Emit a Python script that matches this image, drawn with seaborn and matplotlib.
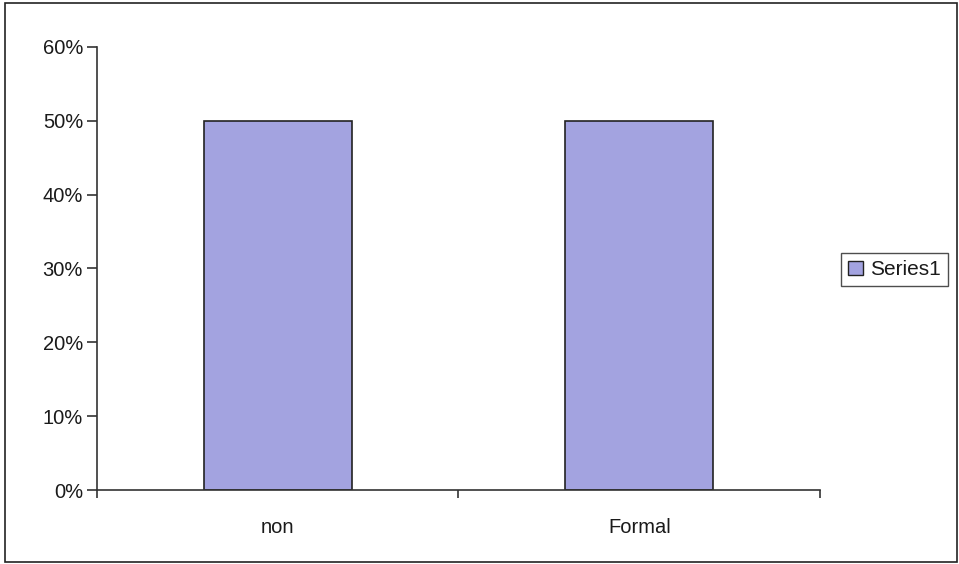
import matplotlib
matplotlib.use('Agg')
import matplotlib.pyplot as plt
import seaborn as sns
import pandas as pd
from matplotlib.patches import Rectangle, Patch
from matplotlib.ticker import PercentFormatter

categories = ['non', 'Formal']
values = [0.50, 0.50]
series_name = 'Series1'

sns.set_style('white', {'xtick.bottom': True, 'ytick.left': True})
plt.rcParams['font.family'] = ['Liberation Sans', 'DejaVu Sans']

df = pd.DataFrame({'cat': categories, 'val': values})

fig = plt.figure(figsize=(9.59, 5.64), dpi=100)
ax = fig.add_axes([0.1011, 0.1312, 0.754, 0.7855])
sns.barplot(data=df, x='cat', y='val', color='#a3a3e0', saturation=1,
            edgecolor='#222222', linewidth=1.2, width=0.41, ax=ax)

ax.set_ylim(0, 0.6)
ax.set_xlim(-0.5, 1.5)
ax.set_yticks([0, 0.1, 0.2, 0.3, 0.4, 0.5, 0.6])
ax.yaxis.set_major_formatter(PercentFormatter(1.0, decimals=0))
ax.set_xticks([-0.5, 0.5, 1.5])
ax.set_xticklabels(['', '', ''])
ax.set_xticks([0, 1], minor=True)
ax.set_xticklabels(categories, minor=True)
ax.tick_params(axis='x', which='minor', bottom=False, length=0, pad=20,
               labelsize=14.5, labelcolor='#1a1a1a')
ax.tick_params(axis='x', which='major', bottom=True, direction='out', length=6,
               width=1.2, color='#333333')
ax.tick_params(axis='y', left=True, direction='out', length=7, width=1.2,
               color='#333333', labelsize=14.5, labelcolor='#1a1a1a', pad=3)
ax.set_xlabel('')
ax.set_ylabel('')
for s in ['top', 'right']:
    ax.spines[s].set_visible(False)
for s in ['left', 'bottom']:
    ax.spines[s].set_color('#333333')
    ax.spines[s].set_linewidth(1.2)

handle = Patch(facecolor='#a3a3e0', edgecolor='#222222', label=series_name)
fig.legend(handles=[handle], loc='center left', bbox_to_anchor=(0.866, 0.522),
           frameon=True, fancybox=False, edgecolor='#222222', fontsize=15,
           handlelength=0.7, handleheight=0.7, handletextpad=0.35, borderpad=0.35,
           labelcolor='#1a1a1a')

fig.patches.append(Rectangle((0.005, 0.004), 0.993, 0.991, transform=fig.transFigure,
                             fill=False, edgecolor='#222222', linewidth=1.2))

fig.savefig('out.png', dpi=100)
